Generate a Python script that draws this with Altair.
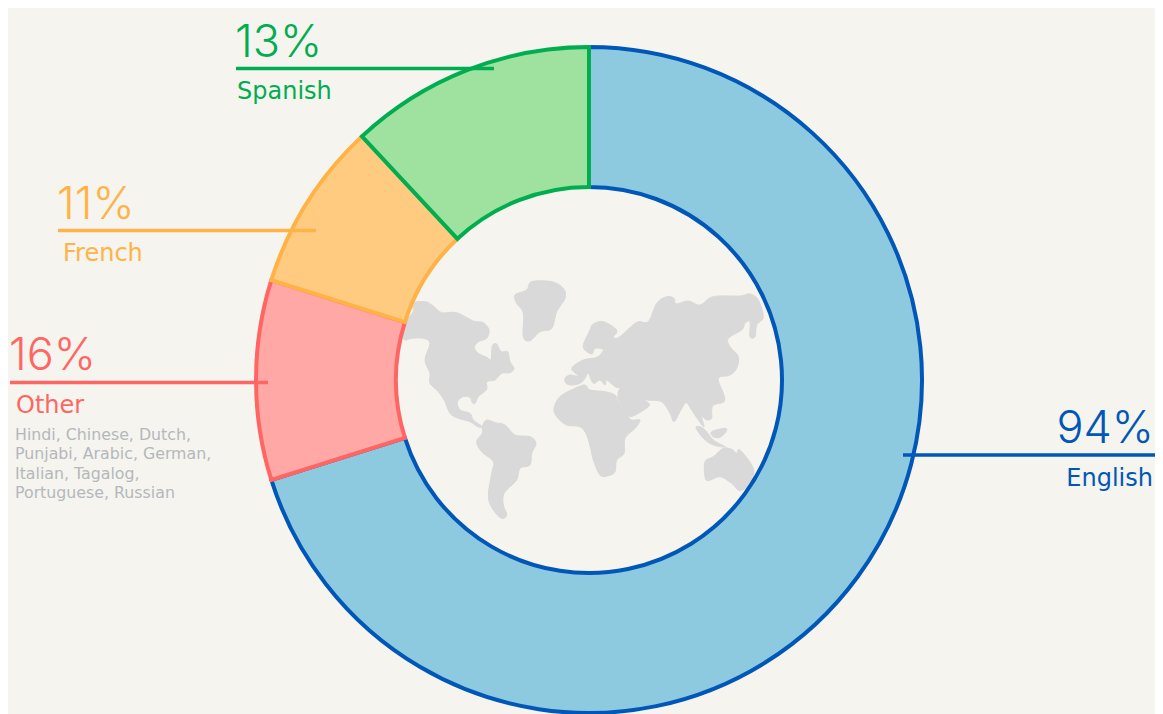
import altair as alt
import pandas as pd

languages = ["English", "Other", "French", "Spanish"]
slice_values = [94, 13, 11, 16]
percent_labels = ["94%", "16%", "11%", "13%"]
other_detail = ["Hindi, Chinese, Dutch,", "Punjabi, Arabic, German,", "Italian, Tagalog,", "Portuguese, Russian"]
fills = ["#8DCAE0", "#FFA8A6", "#FFCB80", "#9FE29F"]
strokes = ["#0057B8", "#FF6663", "#FFB347", "#00AD50"]
BG = "#F5F4EE"
FONT = "Inter"
LABEL_FONT = "DejaVu Sans"

# world-map outline (crop units of 1/3 px)
north_america = [(50,100),(90,95),(115,108),(140,128),(185,128),(235,153),(265,158),(282,180),(275,205),(250,215),(238,232),(250,250),(275,262),(288,268),(292,228),(305,222),(318,245),(338,245),(345,275),(357,295),(345,308),(320,310),(300,330),(275,335),(275,358),(250,380),(240,400),(232,398),(225,382),(205,380),(187,395),(195,420),(225,430),(235,450),(262,470),(248,470),(225,455),(190,445),(165,430),(150,395),(130,365),(105,340),(105,310),(90,270),(105,220),(85,205),(50,205),(30,210),(22,195),(28,158),(55,125)]
south_america = [(262,470),(275,450),(300,458),(330,465),(360,495),(405,500),(423,520),(410,550),(405,585),(375,595),(365,630),(340,655),(325,675),(325,705),(335,735),(320,745),(295,720),(280,680),(290,610),(295,575),(260,545),(245,515),(262,490)]
greenland = [(360,75),(395,60),(410,35),(470,35),(505,55),(510,85),(485,125),(470,175),(435,185),(405,212),(385,200),(385,130),(365,100)]
eurasia = [(45,295),(60,285),(85,288),(65,265),(100,240),(140,232),(160,210),(135,205),(125,222),(100,200),(120,150),(130,132),(160,125),(200,150),(190,172),(210,170),(260,127),(295,125),(320,70),(350,50),(372,55),(378,72),(415,63),(450,75),(490,50),(570,48),(600,42),(625,60),(640,112),(620,135),(615,170),(600,170),(600,125),(585,130),(575,150),(535,175),(540,200),(565,230),(560,265),(540,285),(505,295),(520,340),(522,365),(490,375),(485,395),(485,415),(470,420),(455,410),(462,440),(445,420),(425,390),(408,368),(390,395),(372,425),(360,400),(335,365),(290,360),(255,348),(290,365),(297,378),(265,400),(240,410),(225,395),(205,358),(205,335),(210,325),(195,320),(170,300),(165,315),(150,300),(130,310),(115,280),(105,295),(90,310),(65,315),(48,310)]
africa = [(12,385),(30,350),(75,325),(105,315),(120,330),(165,335),(195,345),(205,365),(230,405),(245,420),(270,420),(255,445),(225,475),(222,520),(200,540),(195,575),(175,587),(150,585),(130,540),(123,510),(110,465),(90,440),(50,435),(20,410)]
australia = [(465,545),(490,530),(520,505),(545,508),(560,520),(570,510),(610,565),(600,610),(570,632),(545,610),(510,590),(475,602),(465,590)]
new_guinea = [(485,455),(525,445),(528,455),(510,472),(490,470)]
indonesia = [(438,442),(460,445),(490,480),(525,500),(490,495),(460,475)]

map_rows = []
for name, pts, ox, oy in [
    ("na", north_america, 395, 270), ("sa", south_america, 395, 270), ("gl", greenland, 395, 270),
    ("eu", eurasia, 550, 280), ("af", africa, 550, 280), ("au", australia, 550, 280),
    ("ng", new_guinea, 550, 280), ("id", indonesia, 550, 280),
]:
    for i, (a, b) in enumerate(pts):
        map_rows.append({"land": name, "i": i, "px": ox + a / 3, "py": oy + b / 3})

W, H = 1147, 706
OFF = 8
CX, CY = 589 - OFF, 380 - OFF

df = pd.DataFrame({"language": languages, "value": slice_values, "rank": range(4)})

world = alt.Chart(pd.DataFrame(map_rows)).mark_line(
    fill="#D9D9D9", stroke="#D9D9D9", strokeWidth=1, interpolate="cardinal-closed"
).encode(
    x=alt.X("px:Q", scale=alt.Scale(domain=[OFF, OFF + W], range=[0, W]), axis=None),
    y=alt.Y("py:Q", scale=alt.Scale(domain=[OFF, OFF + H], range=[0, H]), axis=None),
    detail="land:N",
    order="i:Q",
)

donut = alt.Chart(df).mark_arc(radius=333, radius2=193, strokeWidth=4).encode(
    theta=alt.Theta("value:Q", stack=True, scale=alt.Scale(domain=[0, sum(slice_values)])),
    order=alt.Order("rank:Q"),
    fill=alt.Fill("language:N", scale=alt.Scale(domain=languages, range=fills), legend=None),
    stroke=alt.Stroke("language:N", scale=alt.Scale(domain=languages, range=strokes), legend=None),
    x=alt.value(CX),
    y=alt.value(CY),
)


def rule(x1, x2, y, color):
    return alt.Chart(pd.DataFrame({"k": [0]})).mark_rule(color=color, strokeWidth=3.5).encode(
        x=alt.value(x1 - OFF), x2=alt.value(x2 - OFF), y=alt.value(y - OFF)
    )


def text(s, x, y, size, color, align="left", weight=400, font=LABEL_FONT):
    return alt.Chart(pd.DataFrame({"t": [s]})).mark_text(
        align=align, baseline="alphabetic", font=font, fontSize=size, fontWeight=weight, color=color
    ).encode(text="t:N", x=alt.value(x - OFF), y=alt.value(y - OFF))


layers = [
    world, donut,
    rule(903, 1155, 455, strokes[0]),
    rule(10, 268, 382.5, strokes[1]),
    rule(58, 316, 230.5, strokes[2]),
    rule(236, 494, 68.5, strokes[3]),
    text(percent_labels[0], 1154, 443, 45, strokes[0], "right", 300, FONT),
    text(percent_labels[1], 9, 370, 45, strokes[1], "left", 300, FONT),
    text(percent_labels[2], 57, 219, 45, strokes[2], "left", 300, FONT),
    text(percent_labels[3], 235, 57, 45, strokes[3], "left", 300, FONT),
    text(languages[0], 1153, 486, 24, strokes[0], "right"),
    text(languages[1], 16, 413, 24, strokes[1]),
    text(languages[2], 63, 261, 24, strokes[2]),
    text(languages[3], 237, 99, 24, strokes[3]),
]
for line, base in zip(other_detail, [440, 459, 479, 498]):
    layers.append(text(line, 15, base, 15.8, "#B4B8BC"))

chart = alt.layer(*layers).properties(
    width=W, height=H, background=BG, padding=0,
    autosize=alt.AutoSizeParams(type="none"),
).configure_view(stroke=None)

chart.save("out.html", embed_options={"renderer": "svg", "actions": False})
